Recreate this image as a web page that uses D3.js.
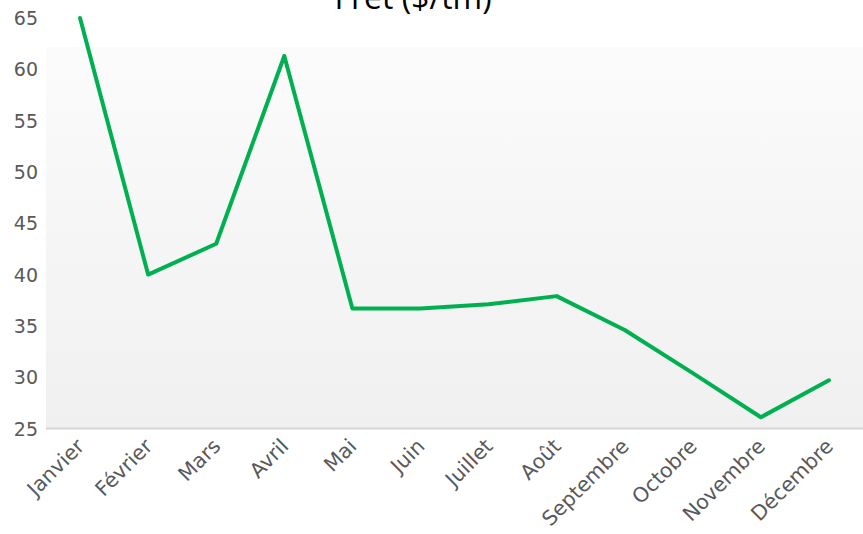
<!DOCTYPE html>
<html>
<head>
<meta charset="utf-8">
<script src="https://d3js.org/d3.v7.min.js"></script>
<style>
  html, body { margin: 0; padding: 0; background: #fff; }
  #chart { width: 863px; height: 534px; }
</style>
</head>
<body>
<div id="chart"></div>
<script>
/* Data — monthly freight rate ($/tm) */
const months = ['Janvier', 'Février', 'Mars', 'Avril', 'Mai', 'Juin',
                'Juillet', 'Août', 'Septembre', 'Octobre', 'Novembre', 'Décembre'];
const fret   = [65, 40, 43, 61.3, 36.7, 36.7, 37.1, 37.9, 34.6, 30.4, 26.1, 29.7];
const yTicks = [25, 30, 35, 40, 45, 50, 55, 60, 65];
const title  = 'Fret ($/tm)';

const W = 863, H = 534;
const plot = { left: 46, right: 863, top: 47, bottom: 428.5 };

const svg = d3.select('#chart').append('svg')
  .attr('width', W)
  .attr('height', H);

/* Soft grey gradient behind the plot */
const grad = svg.append('defs').append('linearGradient')
  .attr('id', 'bg')
  .attr('x1', 0).attr('y1', 0).attr('x2', 0).attr('y2', 1);
grad.append('stop').attr('offset', '0%').attr('stop-color', '#fbfbfb');
grad.append('stop').attr('offset', '100%').attr('stop-color', '#f0f0f0');

svg.append('rect')
  .attr('x', plot.left)
  .attr('y', plot.top)
  .attr('width', plot.right - plot.left)
  .attr('height', plot.bottom - plot.top)
  .attr('fill', 'url(#bg)');

/* Scales */
const x = d3.scalePoint()
  .domain(months)
  .range([plot.left, plot.right])
  .padding(0.5);

const y = d3.scaleLinear()
  .domain([25, 65])
  .range([plot.bottom, 18]);

/* Y axis — labels only */
const yAxis = svg.append('g')
  .attr('transform', `translate(${plot.left - 8},0)`)
  .call(d3.axisLeft(y).tickValues(yTicks).tickSize(0).tickPadding(0));
yAxis.select('.domain').remove();
yAxis.selectAll('text')
  .attr('fill', '#595959')
  .style('font-family', '"DejaVu Sans", sans-serif')
  .style('font-size', '19px')
  .attr('dy', '0.35em');

/* Baseline */
svg.append('line')
  .attr('x1', plot.left).attr('x2', plot.right)
  .attr('y1', plot.bottom).attr('y2', plot.bottom)
  .attr('stroke', '#d6d6d6')
  .attr('stroke-width', 2);

/* X axis — rotated month labels */
const xAxis = svg.append('g')
  .attr('transform', `translate(0,${plot.bottom})`)
  .call(d3.axisBottom(x).tickSize(0).tickPadding(0));
xAxis.select('.domain').remove();
xAxis.selectAll('text')
  .attr('fill', '#595959')
  .style('font-family', '"DejaVu Sans", sans-serif')
  .style('font-size', '20.5px')
  .attr('text-anchor', 'end')
  .attr('dy', 0)
  .attr('transform', 'translate(5,19) rotate(-45)');

/* Line */
const line = d3.line()
  .x((d, i) => x(months[i]))
  .y(d => y(d));

svg.append('path')
  .datum(fret)
  .attr('fill', 'none')
  .attr('stroke', '#00b050')
  .attr('stroke-width', 4)
  .attr('stroke-linejoin', 'round')
  .attr('stroke-linecap', 'round')
  .attr('d', line);

/* Title — sits partly above the frame, as in the source */
svg.append('text')
  .attr('x', 413)
  .attr('y', 9)
  .attr('text-anchor', 'middle')
  .attr('fill', '#000')
  .style('font-family', '"Open Sans", sans-serif')
  .style('font-size', '32px')
  .text(title);
</script>
</body>
</html>
